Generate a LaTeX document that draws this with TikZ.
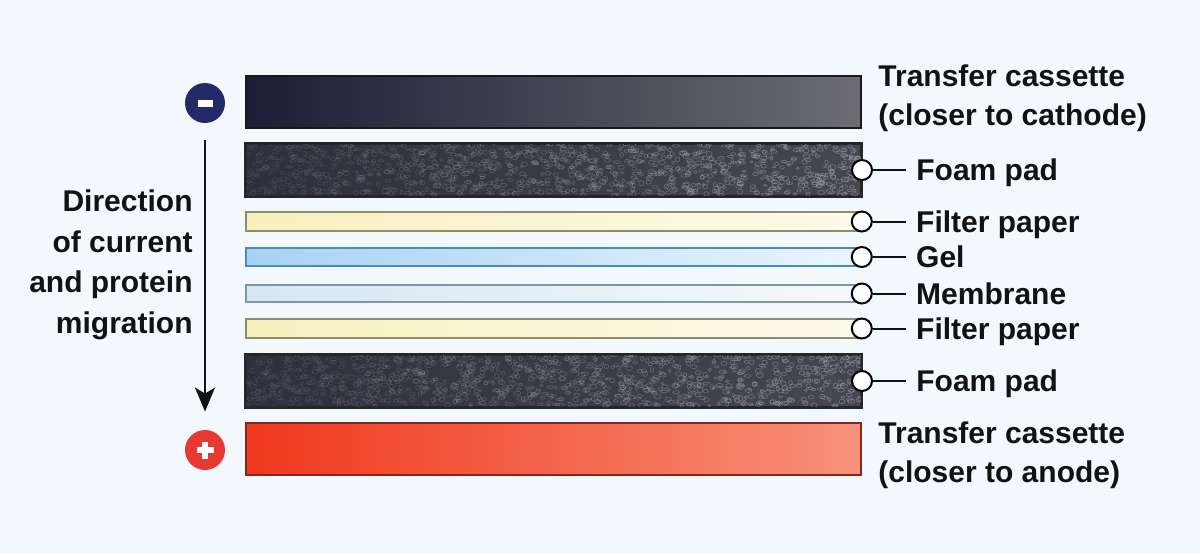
\documentclass[tikz,border=0pt]{standalone}
\usepackage{fontspec}
\setmainfont{Liberation Sans}
\usetikzlibrary{arrows.meta,positioning}
\definecolor{bgColor}{RGB}{243,248,252}
\definecolor{textColor}{RGB}{18,18,18}
\definecolor{cathodeL}{RGB}{28,29,54}
\definecolor{cathodeR}{RGB}{108,108,114}
\definecolor{cathodeSign}{RGB}{36,42,104}
\definecolor{anodeL}{RGB}{240,56,30}
\definecolor{anodeR}{RGB}{248,146,122}
\definecolor{anodeLine}{RGB}{130,40,30}
\definecolor{anodeSign}{RGB}{232,56,50}
\definecolor{foamL}{RGB}{46,47,60}
\definecolor{foamR}{RGB}{70,71,80}
\definecolor{foamGrain}{RGB}{160,162,172}
\definecolor{paperL}{RGB}{247,240,190}
\definecolor{paperR}{RGB}{253,251,234}
\definecolor{paperLine}{RGB}{140,140,112}
\definecolor{gelL}{RGB}{168,210,242}
\definecolor{gelR}{RGB}{234,246,252}
\definecolor{gelLine}{RGB}{74,138,192}
\definecolor{membL}{RGB}{214,230,242}
\definecolor{membR}{RGB}{246,249,252}
\definecolor{membLine}{RGB}{126,150,168}

\newcommand{\tagfont}{\fontsize{15pt}{19.5pt}\selectfont\bfseries}
\newcommand{\foamgrain}[1]{%
  \begin{scope}
    \clip (#1.south west) rectangle (#1.north east);
    \foreach \k in {1,...,1100} {
      \pgfmathsetmacro{\gx}{615*rnd}
      \pgfmathsetmacro{\gy}{52*rnd}
      \pgfmathsetmacro{\gr}{0.7+1.1*rnd}
      \pgfmathsetmacro{\gs}{0.5+0.8*rnd}
      \pgfmathsetmacro{\ga}{0.12+0.45*\gx/615}
      \draw[foamGrain,draw opacity=\ga,line width=0.3pt]
        (#1.north west) ++(\gx,\gy) ellipse (\gr pt and \gs pt);
    }
  \end{scope}}

\begin{document}
\begin{tikzpicture}[x=0.5pt,y=-0.5pt,textColor]
  \tikzstyle{layer} = [rectangle,draw,inner sep=0pt,minimum width=307.5pt]
  \tikzstyle{cassette} = [layer,line width=1pt,minimum height=26pt]
  \tikzstyle{foam} = [layer,draw=black!85,left color=foamL,right color=foamR,line width=1pt,minimum height=26pt]
  \tikzstyle{sheet} = [layer,line width=0.8pt,minimum height=9.5pt]
  \tikzstyle{pin} = [circle,draw=black,fill=white,line width=1pt,minimum size=10pt,inner sep=0pt]
  \tikzstyle{tag} = [inner xsep=5pt,inner ysep=0pt,text height=10.75pt,text depth=0pt,font=\tagfont]
  \tikzstyle{caption} = [anchor=north west,align=left,inner sep=0pt,font=\tagfont]
  \tikzstyle{sign} = [circle,minimum size=20pt,inner sep=0pt]
  \tikzstyle{flow} = [-{Stealth[length=12pt,width=10pt,inset=3pt]},line width=1pt,shorten <=8.5pt,shorten >=9pt]

  \fill[bgColor] (0,0) rectangle (1200,554);
  \useasboundingbox (0,0) rectangle (1200,554);

  % the stack, cathode side on top
  \node [cassette, draw=black!90, left color=cathodeL, right color=cathodeR] (cathode) at (553.5,102) {};
  \node [foam] (foamA) at (553.5,170) {};
  \node [sheet, draw=paperLine, left color=paperL, right color=paperR] (paperA) at (553.5,221.5) {};
  \node [sheet, draw=gelLine, left color=gelL, right color=gelR, minimum height=9pt] (gel) at (553.5,257) {};
  \node [sheet, draw=membLine, left color=membL, right color=membR, minimum height=8.5pt] (memb) at (553.5,293.5) {};
  \node [sheet, draw=paperLine, left color=paperL, right color=paperR] (paperB) at (553.5,328.5) {};
  \node [foam] (foamB) at (553.5,381) {};
  \node [cassette, draw=anodeLine, left color=anodeL, right color=anodeR] (anode) at (553.5,448.5) {};

  \pgfmathsetseed{11}
  \foamgrain{foamA}
  \foamgrain{foamB}
  \draw [black!85, line width=1pt] (foamA.south west) rectangle (foamA.north east);
  \draw [black!85, line width=1pt] (foamB.south west) rectangle (foamB.north east);

  % labels on the right
  \foreach \lay/\txt in {foamA/Foam pad, paperA/Filter paper, gel/Gel, memb/Membrane, paperB/Filter paper, foamB/Foam pad} {
    \node [pin] (pin-\lay) at (\lay.east) {};
    \node [tag, right=16.5pt of pin-\lay] (tag-\lay) {\txt};
    \draw [line width=1pt] (pin-\lay) -- (tag-\lay);
  }
  \node [caption] (capCathode) at (878,64) {Transfer cassette\\(closer to cathode)};
  \node [caption] (capAnode) at (878,421) {Transfer cassette\\(closer to anode)};

  % electrodes and direction
  \node [sign, fill=cathodeSign] (minus) at (205,103) {};
  \fill [white] (minus.center) +(-7.5,-3.5) rectangle +(7.5,3.5);
  \node [sign, fill=anodeSign] (plus) at (205,450) {};
  \fill [white] (plus.center) +(-8.5,-3) rectangle +(8.5,3);
  \fill [white] (plus.center) +(-3,-8.5) rectangle +(3,8.5);
  \draw [flow] (minus) -- (plus);

  \node [anchor=north east, align=right, inner sep=0pt, font=\fontsize{15pt}{20.25pt}\selectfont\bfseries] (direction) at (193,189.5)
    {Direction\\of current\\and protein\\migration};
\end{tikzpicture}
\end{document}
